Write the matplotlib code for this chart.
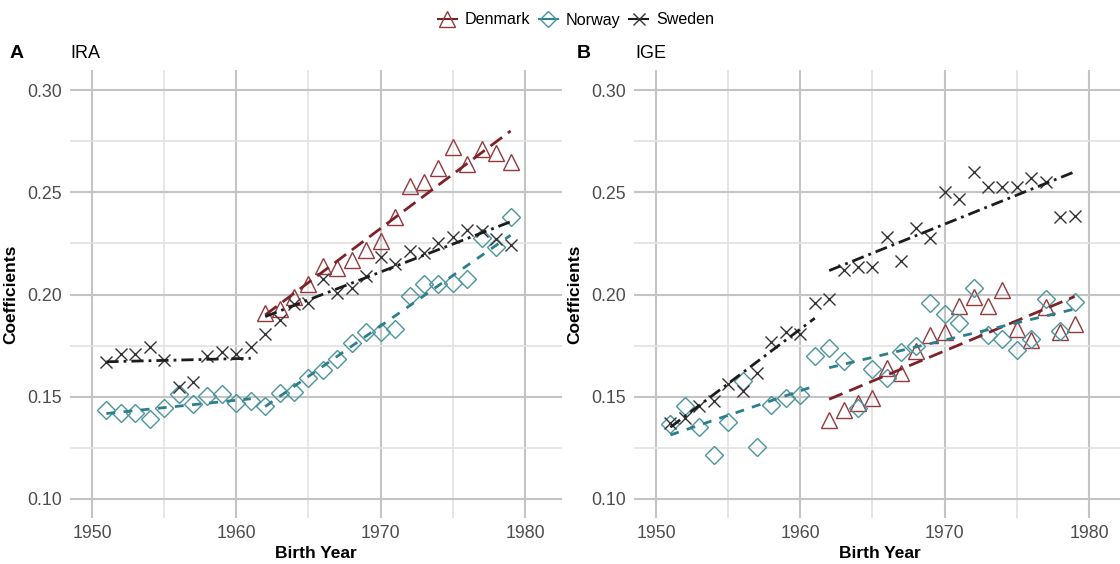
#!/usr/bin/env python3
"""IRA / IGE coefficients by birth year for Denmark, Norway and Sweden (two panels)."""
import numpy as np
import matplotlib
matplotlib.use("Agg")
import matplotlib.pyplot as plt
from matplotlib.lines import Line2D
from matplotlib.ticker import MultipleLocator

plt.rcParams["font.family"] = ["Liberation Sans", "DejaVu Sans"]

# ---- data -----------------------------------------------------------------------
YEARS_ALL = np.arange(1951, 1980)   # 1951..1979
YEARS_DK = np.arange(1962, 1980)    # Denmark only from 1962

IRA_DK = [0.191, 0.193, 0.199, 0.205, 0.214, 0.213, 0.217, 0.222, 0.226, 0.238,
          0.253, 0.255, 0.262, 0.272, 0.264, 0.271, 0.269, 0.265]
IRA_NO = [0.1435, 0.1422, 0.1422, 0.139, 0.1447, 0.1513, 0.1465, 0.1505, 0.1513, 0.1468,
          0.1481, 0.1456, 0.152, 0.1525, 0.1594, 0.1631, 0.1683, 0.1765, 0.1818, 0.1818,
          0.183, 0.1994, 0.2051, 0.2051, 0.2058, 0.2074, 0.2275, 0.2234, 0.2377]
IRA_SE = [0.1671, 0.1709, 0.171, 0.1745, 0.168, 0.1546, 0.157, 0.170, 0.172, 0.171,
          0.1742, 0.1805, 0.1877, 0.1953, 0.196, 0.2076, 0.2006, 0.2033, 0.2092, 0.2182,
          0.2149, 0.2213, 0.2201, 0.2254, 0.2283, 0.2315, 0.2312, 0.2271, 0.2242]

IGE_DK = [0.1386, 0.1435, 0.1471, 0.1492, 0.1642, 0.1615, 0.1726, 0.1802, 0.1815, 0.1946,
          0.199, 0.1944, 0.2022, 0.183, 0.1778, 0.1941, 0.1818, 0.1856]
IGE_NO = [0.1365, 0.1455, 0.1354, 0.1215, 0.1378, 0.1579, 0.1255, 0.146, 0.1492, 0.1509,
          0.1701, 0.1737, 0.1677, 0.1447, 0.1634, 0.1594, 0.1718, 0.1748, 0.1957, 0.1904,
          0.1859, 0.2034, 0.1802, 0.1782, 0.1729, 0.1781, 0.1978, 0.1822, 0.1962]
IGE_SE = [0.1374, 0.1395, 0.1457, 0.148, 0.1561, 0.153, 0.1615, 0.1767, 0.1818, 0.1807,
          0.1957, 0.1978, 0.212, 0.2133, 0.2133, 0.2283, 0.2166, 0.2324, 0.2278, 0.25,
          0.2467, 0.2598, 0.2526, 0.2526, 0.2526, 0.2571, 0.2552, 0.2378, 0.2386]

# linear trend segments: (start year, end year, value at start, value at end)
IRA_TREND_DK = [(1962, 1979, 0.190, 0.280)]
IRA_TREND_NO = [(1951, 1961, 0.1418, 0.1490), (1962, 1979, 0.1452, 0.2290)]
IRA_TREND_SE = [(1951, 1961, 0.1671, 0.1688), (1962, 1979, 0.1892, 0.2356)]
IGE_TREND_DK = [(1962, 1979, 0.1488, 0.1990)]
IGE_TREND_NO = [(1951, 1961, 0.1313, 0.1553), (1962, 1979, 0.1642, 0.1929)]
IGE_TREND_SE = [(1951, 1961, 0.1351, 0.1884), (1962, 1979, 0.2117, 0.2600)]

COUNTRIES = ["Denmark", "Norway", "Sweden"]

# ---- styling -------------------------------------------------------------------
STYLE = {
    "Denmark": dict(line="#7d2328", mk="#94393e", marker="^", ms=11.5,
                    dash=(0, (5.2, 2.6))),
    "Norway": dict(line="#2c7f8b", mk="#4b969d", marker="D", ms=9.0,
                   dash=(0, (3.2, 3.0))),
    "Sweden": dict(line="#1c1c1c", mk="#333333", marker="x", ms=9.0,
                   dash=(0, (4.4, 1.8, 1.0, 1.8))),
}
MAJOR_GRID = "#c4c4c4"
MINOR_GRID = "#e2e2e2"
TICK_TXT = "#4d4d4d"

W, H = 1120, 564
XLIM = (1948.48, 1982.56)
YLIM = (0.0907, 0.3098)


def draw_panel(ax, series, trends):
    for name in COUNTRIES:
        st = STYLE[name]
        xs, ys = series[name]
        ax.plot(xs, ys, ls="none", marker=st["marker"], ms=st["ms"], mfc="none",
                mec=st["mk"], mew=1.0, zorder=3)
        for x0, x1, y0, y1 in trends[name]:
            ax.plot([x0, x1], [y0, y1], color=st["line"], lw=2.0, ls=st["dash"],
                    zorder=4)
    ax.set_xlim(*XLIM)
    ax.set_ylim(*YLIM)
    ax.xaxis.set_major_locator(MultipleLocator(10))
    ax.xaxis.set_minor_locator(MultipleLocator(5))
    ax.yaxis.set_minor_locator(MultipleLocator(0.025))
    ax.set_yticks([0.10, 0.15, 0.20, 0.25, 0.30])
    ax.set_yticklabels(["0.10", "0.15", "0.20", "0.25", "0.30"])
    ax.grid(which="major", color=MAJOR_GRID, lw=1.5)
    ax.grid(which="minor", color=MINOR_GRID, lw=1.2)
    ax.set_axisbelow(True)
    for sp in ax.spines.values():
        sp.set_visible(False)
    ax.tick_params(which="both", length=0, labelsize=12.8, labelcolor=TICK_TXT)
    ax.tick_params(axis="y", pad=6)
    ax.tick_params(axis="x", pad=5)
    ax.set_xlabel("Birth Year", fontsize=12.5, fontweight="bold", labelpad=3)
    ax.set_ylabel("Coefficients", fontsize=12.5, fontweight="bold")
    ax.yaxis.set_label_coords(-52 / 492, 0.5)


fig = plt.figure(figsize=(W / 100, H / 100), dpi=100)
ax_a = fig.add_axes([70 / W, 46 / H, 492 / W, 448 / H])
ax_b = fig.add_axes([634 / W, 46 / H, 492 / W, 448 / H])

draw_panel(ax_a,
           {"Denmark": (YEARS_DK, IRA_DK), "Norway": (YEARS_ALL, IRA_NO),
            "Sweden": (YEARS_ALL, IRA_SE)},
           {"Denmark": IRA_TREND_DK, "Norway": IRA_TREND_NO, "Sweden": IRA_TREND_SE})
draw_panel(ax_b,
           {"Denmark": (YEARS_DK, IGE_DK), "Norway": (YEARS_ALL, IGE_NO),
            "Sweden": (YEARS_ALL, IGE_SE)},
           {"Denmark": IGE_TREND_DK, "Norway": IGE_TREND_NO, "Sweden": IGE_TREND_SE})

# panel tags and titles
fig.text(10 / W, 1 - 53 / H, "A", fontsize=14, fontweight="bold", va="center")
fig.text(70 / W, 1 - 53 / H, "IRA", fontsize=13, va="center")
fig.text(577 / W, 1 - 53 / H, "B", fontsize=14, fontweight="bold", va="center")
fig.text(635 / W, 1 - 53 / H, "IGE", fontsize=13, va="center")

handles = [Line2D([], [], color=STYLE[n]["line"], lw=1.5, ls="-",
                  marker=STYLE[n]["marker"], ms=STYLE[n]["ms"] * 0.95, mfc="none",
                  mec=STYLE[n]["mk"], mew=1.0) for n in COUNTRIES]
fig.legend(handles, COUNTRIES, loc="center", bbox_to_anchor=(576 / W, 1 - 20 / H),
           ncol=3, frameon=False, fontsize=11.6, handlelength=1.2, handletextpad=0.5,
           columnspacing=0.5)

fig.savefig("out.png", dpi=100)
